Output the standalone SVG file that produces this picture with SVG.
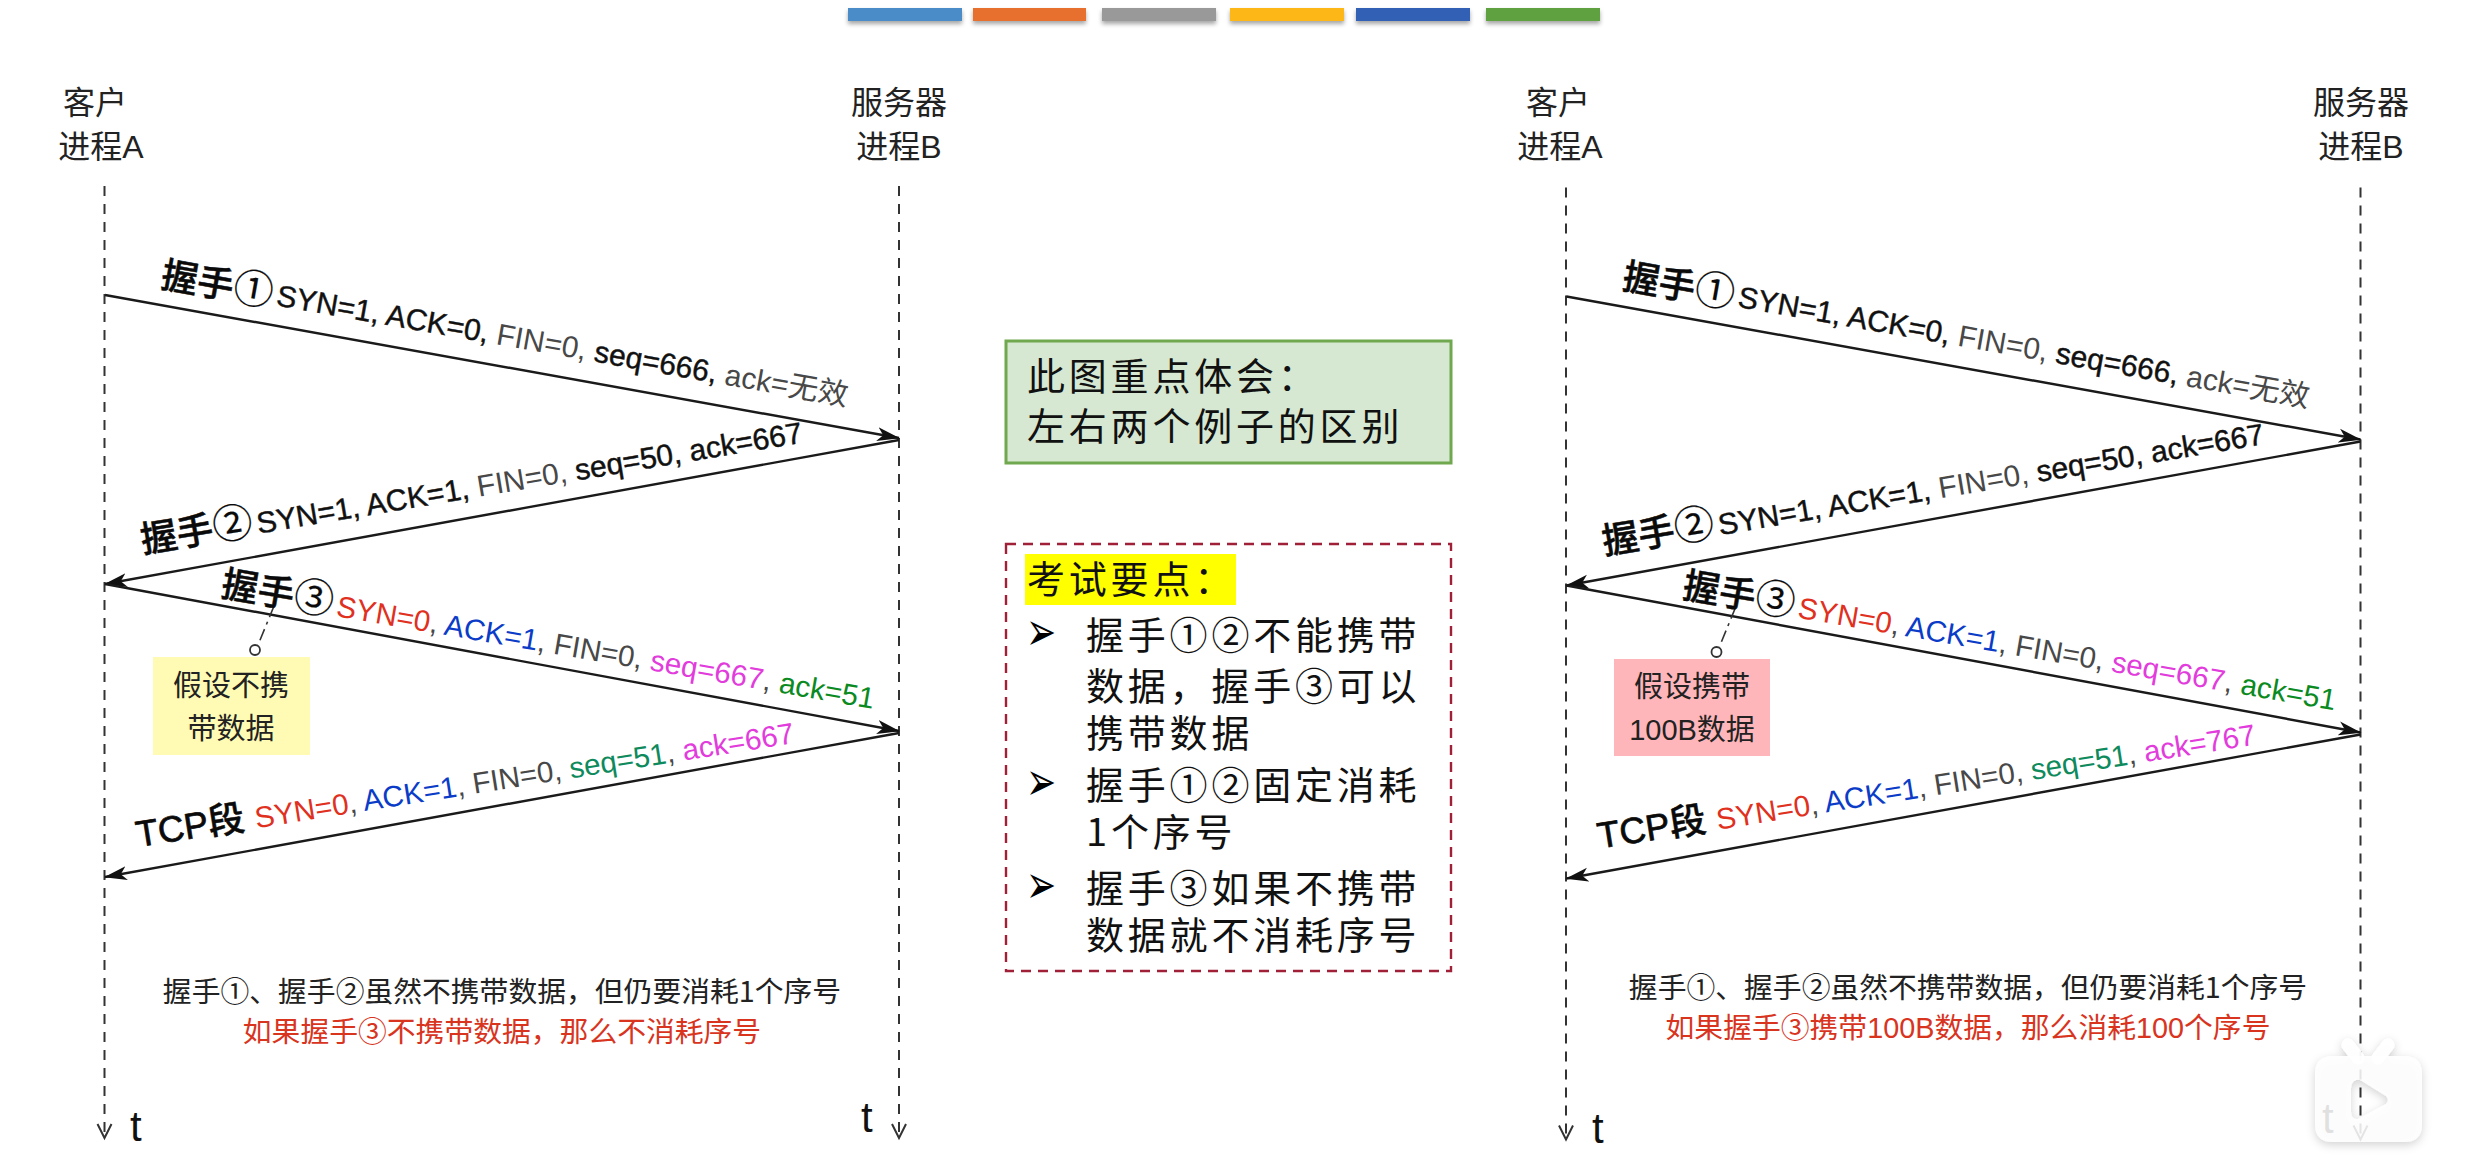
<svg xmlns="http://www.w3.org/2000/svg" width="2478" height="1164" viewBox="0 0 2478 1164">
<style>
text{font-family:"Noto Sans CJK SC","Noto Sans",sans-serif;fill:#111}
.hd{font-size:32px;text-anchor:middle;fill:#222}
.hs{font-size:36.5px;font-weight:500;fill:#0a0a0a;stroke:#0a0a0a;stroke-width:.5}
.hs .c{font-weight:400;stroke-width:.2;font-size:40px}
.msg{font-family:"Liberation Sans","Noto Sans CJK SC",sans-serif;font-size:30px}
.m2{font-size:29.6px}
.st{fill:#111;stroke:#111;stroke-width:.45}
.th{fill:#484848}
.r{fill:#E0301E}.b{fill:#0B3CC8}.m{fill:#E23CDC}.g{fill:#0B8A22}.tl{fill:#0E8A5C}
.note{font-size:29px;text-anchor:middle;fill:#222}
.foot{font-size:28.8px;text-anchor:middle;fill:#222}
.foot2{font-size:28.8px;text-anchor:middle;fill:#D8341E}
.tm{font-family:"Liberation Sans",sans-serif;font-size:42px;fill:#111}
.pt{font-size:38px;letter-spacing:3.8px;fill:#111}
.bu{font-family:"DejaVu Sans",sans-serif;font-size:36px;fill:#000}
.life{stroke:#333;stroke-width:2;stroke-dasharray:10 8;fill:none;marker-end:url(#open)}
.arr{stroke:#1a1a1a;stroke-width:2.4;fill:none;marker-end:url(#head)}
.lead{stroke:#333;stroke-width:1.6;stroke-dasharray:12 5 3 5;fill:none}
.dot{stroke:#333;stroke-width:1.8;fill:#fff}
.tcp{font-family:"Liberation Sans",sans-serif;stroke-width:.7}
</style>
<defs>
<marker id="head" markerUnits="userSpaceOnUse" markerWidth="24" markerHeight="16" refX="22" refY="8" orient="auto"><path d="M0 1 L23 8 L0 15 L6 8 Z" fill="#111"/></marker>
<marker id="open" markerUnits="userSpaceOnUse" markerWidth="18" markerHeight="20" refX="15" refY="9" orient="auto"><path d="M1 2 L15 9 L1 16" fill="none" stroke="#333" stroke-width="2" stroke-dasharray="none"/></marker>
<filter id="sh" x="-10%" y="-50%" width="120%" height="220%"><feDropShadow dx="0" dy="3" stdDeviation="2" flood-color="#000" flood-opacity=".35"/></filter>
<filter id="wm" x="-20%" y="-20%" width="140%" height="140%"><feDropShadow dx="0" dy="3" stdDeviation="5" flood-color="#000" flood-opacity=".2"/></filter>
</defs>
<rect width="2478" height="1164" fill="#fff"/>
<g id="color-bars" filter="url(#sh)">
<rect x="848" y="8" width="114" height="13" fill="#4A8CC8"/>
<rect x="973" y="8" width="113" height="13" fill="#E8702F"/>
<rect x="1102" y="8" width="114" height="13" fill="#999"/>
<rect x="1230" y="8" width="114" height="13" fill="#FDB714"/>
<rect x="1356" y="8" width="114" height="13" fill="#3260B4"/>
<rect x="1486" y="8" width="114" height="13" fill="#5FA03F"/>
</g>

<g id="connectors-left">
<path class="life" d="M104.5 186V1138"/>
<path class="life" d="M899 186V1138"/>
<path class="arr" d="M105 295L899 438"/>
<path class="arr" d="M899 440L105 584"/>
<path class="arr" d="M105 584L899 731"/>
<path class="arr" d="M899 733L105 877"/>
<path class="lead" d="M274 606L258 645"/>
</g>
<g id="client-left"><text class="hd" x="95" y="114">客户</text><text class="hd" x="101" y="158">进程<tspan font-family="Liberation Sans">A</tspan></text></g>
<g id="server-left"><text class="hd" x="899" y="114">服务器</text><text class="hd" x="899" y="158">进程<tspan font-family="Liberation Sans">B</tspan></text></g>
<g id="label-left-1" transform="translate(160 285) rotate(10)"><text class="hs" y="2">握手<tspan class="c">①</tspan></text><text class="msg" x="117" y="0"><tspan class="st">SYN=1, ACK=0,</tspan><tspan class="th"> FIN=0, </tspan><tspan class="st">seq=666,</tspan><tspan class="th"> ack=无效</tspan></text></g>
<g id="label-left-2" transform="translate(143 553) rotate(-9.5)"><text class="hs">握手<tspan class="c">②</tspan></text><text class="msg" x="117" y="0"><tspan class="st">SYN=1, ACK=1,</tspan><tspan class="th"> FIN=0, </tspan><tspan class="st">seq=50, ack=667</tspan></text></g>
<g id="label-left-3" transform="translate(220 596) rotate(9.8)"><text class="hs">握手<tspan class="c">③</tspan></text><text class="msg m2" x="117" y="0"><tspan class="r">SYN=0</tspan><tspan class="th">, </tspan><tspan class="b">ACK=1</tspan><tspan class="th">, FIN=0, </tspan><tspan class="m">seq=667</tspan><tspan class="th">, </tspan><tspan class="g">ack=51</tspan></text></g>
<g id="label-left-4" transform="translate(138 847) rotate(-9)"><text class="hs"><tspan class="tcp">TCP</tspan>段</text><text class="msg m2" x="120" y="0"><tspan class="r">SYN=0</tspan><tspan class="th">, </tspan><tspan class="b">ACK=1</tspan><tspan class="th">, FIN=0, </tspan><tspan class="tl">seq=51</tspan><tspan class="th">, </tspan><tspan class="m">ack=667</tspan></text></g>
<g id="note-left"><circle class="dot" cx="255" cy="650" r="5"/><rect x="153" y="657" width="157" height="98" fill="#FFFBB4"/><text class="note" x="231" y="696">假设不携</text><text class="note" x="231" y="739">带数据</text></g>
<g id="foot-left"><text class="foot" x="502" y="1002">握手①、握手②虽然不携带数据，但仍要消耗1个序号</text><text class="foot2" x="502" y="1042">如果握手③不携带数据，那么不消耗序号</text></g>
<text class="tm" x="130" y="1141">t</text>
<text class="tm" x="861" y="1132">t</text>

<g id="note-center-green"><rect x="1006" y="341" width="445" height="122" fill="#D6E8D2" stroke="#6FA84F" stroke-width="3"/><text class="pt" x="1027" y="390">此图重点体会：</text><text class="pt" x="1027" y="440">左右两个例子的区别</text></g>
<g id="note-center-exam">
<rect x="1006" y="544" width="445" height="427" fill="#fff" stroke="#A02038" stroke-width="2.4" stroke-dasharray="10 7"/>
<rect x="1025" y="554" width="211" height="51" fill="#FFFF00"/>
<text class="pt" x="1027" y="593">考试要点：</text>
<text class="bu" transform="translate(1026 650) scale(1 1.5)">➢</text><text class="bu" transform="translate(1026 800) scale(1 1.5)">➢</text><text class="bu" transform="translate(1026 903) scale(1 1.5)">➢</text>
<text class="pt" x="1086" y="649">握手①②不能携带</text>
<text class="pt" x="1086" y="700">数据，握手③可以</text>
<text class="pt" x="1086" y="747">携带数据</text>
<text class="pt" x="1086" y="799">握手①②固定消耗</text>
<text class="pt" x="1086" y="846">1个序号</text>
<text class="pt" x="1086" y="902">握手③如果不携带</text>
<text class="pt" x="1086" y="949">数据就不消耗序号</text>
</g>

<g id="connectors-right" transform="translate(1461.5 1.5)">
<path class="life" d="M104.5 186V1138"/>
<path class="life" d="M899 186V1138"/>
<path class="arr" d="M105 295L899 438"/>
<path class="arr" d="M899 440L105 584"/>
<path class="arr" d="M105 584L899 731"/>
<path class="arr" d="M899 733L105 877"/>
<path class="lead" d="M274 606L258 645"/>
</g>
<g id="client-right"><text class="hd" x="1558" y="114">客户</text><text class="hd" x="1560" y="158">进程<tspan font-family="Liberation Sans">A</tspan></text></g>
<g id="server-right"><text class="hd" x="2361" y="114">服务器</text><text class="hd" x="2361" y="158">进程<tspan font-family="Liberation Sans">B</tspan></text></g>
<g id="label-right-1" transform="translate(1621.5 286.5) rotate(10)"><text class="hs" y="2">握手<tspan class="c">①</tspan></text><text class="msg" x="117" y="0"><tspan class="st">SYN=1, ACK=0,</tspan><tspan class="th"> FIN=0, </tspan><tspan class="st">seq=666,</tspan><tspan class="th"> ack=无效</tspan></text></g>
<g id="label-right-2" transform="translate(1604.5 554.5) rotate(-9.5)"><text class="hs">握手<tspan class="c">②</tspan></text><text class="msg" x="117" y="0"><tspan class="st">SYN=1, ACK=1,</tspan><tspan class="th"> FIN=0, </tspan><tspan class="st">seq=50, ack=667</tspan></text></g>
<g id="label-right-3" transform="translate(1681.5 597.5) rotate(9.8)"><text class="hs">握手<tspan class="c">③</tspan></text><text class="msg m2" x="117" y="0"><tspan class="r">SYN=0</tspan><tspan class="th">, </tspan><tspan class="b">ACK=1</tspan><tspan class="th">, FIN=0, </tspan><tspan class="m">seq=667</tspan><tspan class="th">, </tspan><tspan class="g">ack=51</tspan></text></g>
<g id="label-right-4" transform="translate(1599.5 848.5) rotate(-9)"><text class="hs"><tspan class="tcp">TCP</tspan>段</text><text class="msg m2" x="120" y="0"><tspan class="r">SYN=0</tspan><tspan class="th">, </tspan><tspan class="b">ACK=1</tspan><tspan class="th">, FIN=0, </tspan><tspan class="tl">seq=51</tspan><tspan class="th">, </tspan><tspan class="m">ack=767</tspan></text></g>
<g id="note-right"><circle class="dot" cx="1716.5" cy="652" r="5"/><rect x="1614" y="659" width="156" height="97" fill="#FFB6BA"/><text class="note" x="1692" y="697">假设携带</text><text class="note" x="1692" y="740"><tspan font-family="Liberation Sans">100B</tspan>数据</text></g>
<g id="foot-right"><text class="foot" x="1968" y="998">握手①、握手②虽然不携带数据，但仍要消耗1个序号</text><text class="foot2" x="1968" y="1038">如果握手③携带<tspan font-family="Liberation Sans">100B</tspan>数据，那么消耗<tspan font-family="Liberation Sans">100</tspan>个序号</text></g>
<text class="tm" x="1592" y="1143">t</text>
<text class="tm" x="2322" y="1133">t</text>

<g id="watermark" filter="url(#wm)">
<path d="M2348 1045L2358 1058M2388 1045L2378 1058" stroke="#fff" stroke-width="13" stroke-linecap="round" opacity=".95"/>
<path fill="#fff" fill-opacity=".86" fill-rule="evenodd" d="M2333 1056H2404Q2422 1056 2422 1074V1124Q2422 1142 2404 1142H2333Q2315 1142 2315 1124V1074Q2315 1056 2333 1056ZM2356 1080Q2351 1082 2351 1088V1112Q2351 1120 2358 1119L2386 1104Q2390 1100 2386 1096L2362 1081Q2359 1079 2356 1080Z"/>
</g>
</svg>
